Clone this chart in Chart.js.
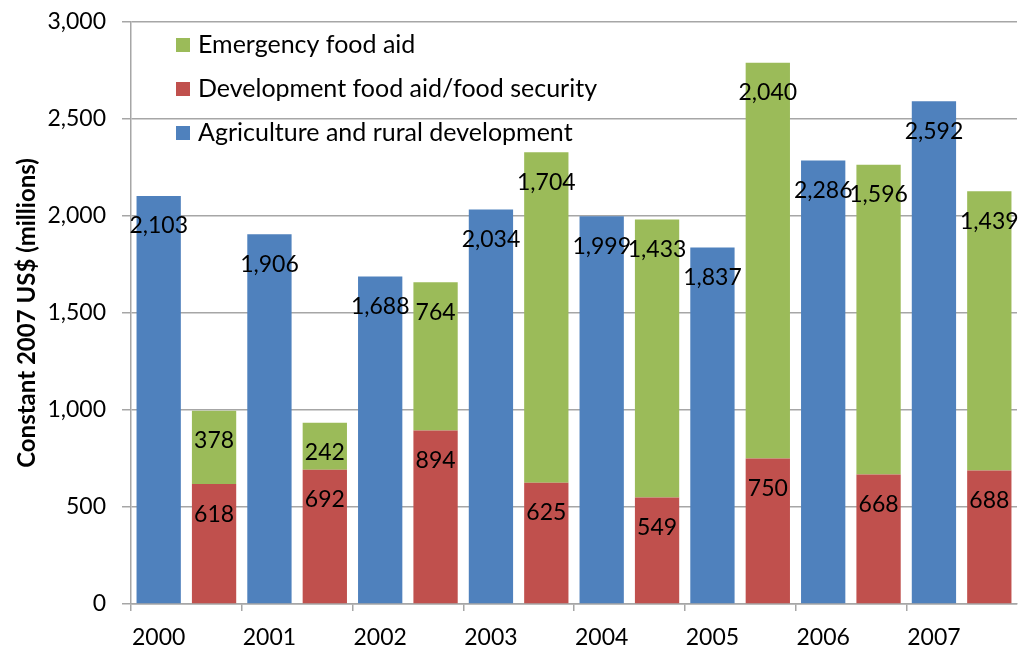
<!DOCTYPE html>
<html>
<head>
<meta charset="utf-8">
<script src="https://cdn.jsdelivr.net/npm/chart.js@4"></script>
<style>
  body { margin: 0; background: #fff; }
</style>
</head>
<body>
<canvas id="grafico" width="1019" height="648"></canvas>
<script>
// ========== Dados ==========
// each year has two slots: blue bar, then the stacked red+green bar
const anos = ["2000", "2001", "2002", "2003", "2004", "2005", "2006", "2007"];
const agricultura = [2103, 1906, 1688, 2034, 1999, 1837, 2286, 2592];
const desenvolvimento = [618, 692, 894, 625, 549, 750, 668, 688];
const emergencia = [378, 242, 764, 1704, 1433, 2040, 1596, 1439];
const yTicks = [0, 500, 1000, 1500, 2000, 2500, 3000];

const nomes = {
  emergencia: "Emergency food aid",
  desenvolvimento: "Development food aid/food security",
  agricultura: "Agriculture and rural development",
};
const cores = { azul: "#4F81BD", vermelho: "#C0504D", verde: "#9BBB59" };
const cinza = "#a6a6a6";
const fonte = "Lato, 'Open Sans', sans-serif";

// 16 slots: label only under the blue slot
const labels = [];
const serieAzul = [];
const serieVermelha = [];
const serieVerde = [];
anos.forEach((ano, i) => {
  labels.push(ano, "");
  serieAzul.push(agricultura[i], null);
  serieVermelha.push(null, desenvolvimento[i]);
  serieVerde.push(null, emergencia[i]);
});

// ========== Plugins ==========
const rotulos = {
  id: "rotulos",
  afterDatasetsDraw(chart) {
    const ctx = chart.ctx;
    ctx.save();
    ctx.font = "23px " + fonte;
    ctx.fillStyle = "#000";
    ctx.textAlign = "center";
    ctx.textBaseline = "middle";
    chart.data.datasets.forEach((ds, i) => {
      chart.getDatasetMeta(i).data.forEach((bar, j) => {
        const v = ds.data[j];
        if (v == null) return;
        ctx.fillText(v.toLocaleString("en-US"), bar.x, bar.y + 30);
      });
    });
    ctx.restore();
  },
};

const legenda = {
  id: "legenda",
  afterDatasetsDraw(chart) {
    const ctx = chart.ctx;
    const itens = [
      [cores.verde, nomes.emergencia],
      [cores.vermelho, nomes.desenvolvimento],
      [cores.azul, nomes.agricultura],
    ];
    ctx.save();
    ctx.font = "25px " + fonte;
    ctx.textBaseline = "middle";
    itens.forEach(([cor, texto], i) => {
      const y = 45 + i * 44;
      ctx.fillStyle = cor;
      ctx.fillRect(176, y - 7, 14, 14);
      ctx.fillStyle = "#000";
      ctx.fillText(texto, 198, y);
    });
    ctx.restore();
  },
};

// ========== Gráfico ==========
new Chart(document.getElementById("grafico"), {
  type: "bar",
  data: {
    labels: labels,
    datasets: [
      { label: nomes.agricultura, data: serieAzul, backgroundColor: cores.azul },
      { label: nomes.desenvolvimento, data: serieVermelha, backgroundColor: cores.vermelho },
      { label: nomes.emergencia, data: serieVerde, backgroundColor: cores.verde },
    ],
  },
  options: {
    responsive: false,
    animation: false,
    layout: { padding: { top: 22, right: 2, left: 0, bottom: 0 } },
    plugins: { legend: { display: false }, tooltip: { enabled: false } },
    datasets: { bar: { barPercentage: 0.8, categoryPercentage: 1.0 } },
    scales: {
      x: {
        stacked: true,
        afterFit: (s) => {
          s.height = 44;
          s.paddingLeft = 0;
          s.paddingRight = 0;
        },
        grid: {
          offset: true,
          drawOnChartArea: false,
          tickLength: 7,
          lineWidth: 1.5,
          color: (c) => (c.index % 2 === 0 ? cinza : "rgba(0,0,0,0)"),
        },
        border: { color: cinza, width: 1.5 },
        ticks: {
          autoSkip: false,
          maxRotation: 0,
          padding: 13,
          color: "#000",
          font: { family: fonte, size: 23 },
        },
      },
      y: {
        stacked: true,
        min: 0,
        max: 3000,
        afterFit: (s) => {
          s.width = 131;
          s.paddingTop = 0;
          s.paddingBottom = 0;
        },
        afterBuildTicks: (s) => { s.ticks = yTicks.map((v) => ({ value: v })); },
        grid: { color: cinza, lineWidth: 1.5, tickLength: 9 },
        border: { color: cinza, width: 1.5 },
        ticks: {
          padding: 16,
          color: "#000",
          font: { family: fonte, size: 23 },
          callback: (v) => v.toLocaleString("en-US"),
        },
        title: {
          display: true,
          text: "Constant 2007 US$ (millions)",
          color: "#000",
          font: { family: fonte, size: 24, weight: "bold" },
          padding: { top: 13, bottom: 0 },
        },
      },
    },
  },
  plugins: [rotulos, legenda],
});
</script>
</body>
</html>
